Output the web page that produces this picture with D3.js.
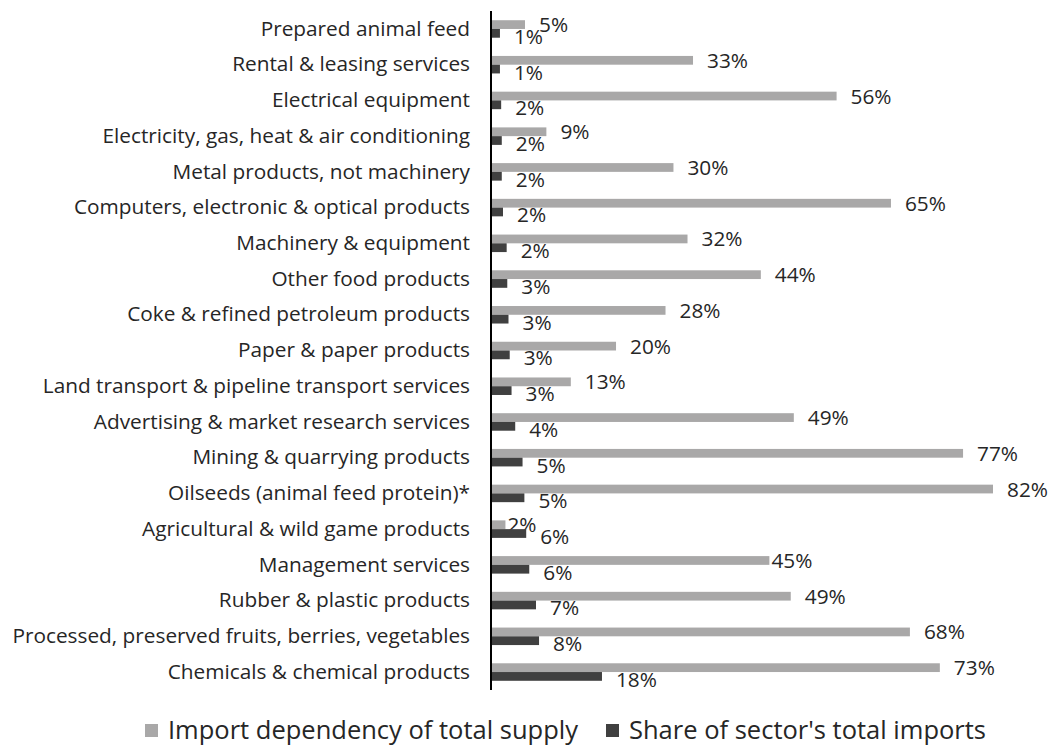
<!DOCTYPE html>
<html><head><meta charset="utf-8">
<script src="https://cdn.jsdelivr.net/npm/d3@7"></script>
<style>
html,body{margin:0;padding:0;background:#fff;}
text{font-family:"Open Sans",sans-serif;fill:#262626;}
</style></head>
<body>
<svg id="chart" width="1055" height="745"></svg>
<script>
const categories = [
  "Prepared animal feed",
  "Rental & leasing services",
  "Electrical equipment",
  "Electricity, gas, heat & air conditioning",
  "Metal products, not machinery",
  "Computers, electronic & optical products",
  "Machinery & equipment",
  "Other food products",
  "Coke & refined petroleum products",
  "Paper & paper products",
  "Land transport & pipeline transport services",
  "Advertising & market research services",
  "Mining & quarrying products",
  "Oilseeds (animal feed protein)*",
  "Agricultural & wild game products",
  "Management services",
  "Rubber & plastic products",
  "Processed, preserved fruits, berries, vegetables",
  "Chemicals & chemical products"
];
// Import dependency of total supply (%)
const importDependency = [5.4, 32.9, 56.4, 8.9, 29.7, 65.3, 32.0, 44.0, 28.4, 20.3, 12.9, 49.4, 77.1, 82.0, 2.2, 45.4, 48.9, 68.4, 73.3];
// Share of sector's total imports (%)
const importShare = [1.3, 1.3, 1.5, 1.6, 1.6, 1.8, 2.4, 2.5, 2.7, 2.9, 3.2, 3.8, 5.0, 5.3, 5.6, 6.1, 7.2, 7.7, 18.0];
const seriesNames = ["Import dependency of total supply", "Share of sector's total imports"];
const seriesColors = ["#A9A8A8", "#404040"];

const svg = d3.select("#chart");
const x = d3.scaleLinear().domain([0, 82]).range([492, 993]);
const y = d3.scaleBand().domain(categories).range([11.1, 689.9]).paddingInner(0.51).paddingOuter(0.255);
const ySub = d3.scaleBand().domain([0, 1]).range([0, y.bandwidth()]);

// labels that sit close to their bar end in the original
const tightLabels = new Set(["Agricultural & wild game products", "Management services"]);

const series = [importDependency, importShare];
const fmt = v => Math.round(v) + "%";
const labelSize = 20.8;

series.forEach((vals, si) => {
  const g = svg.append("g");
  g.selectAll("rect").data(vals).join("rect")
    .attr("x", x(0))
    .attr("y", (d, i) => y(categories[i]) + ySub(si))
    .attr("width", d => x(d) - x(0))
    .attr("height", ySub.bandwidth())
    .attr("fill", seriesColors[si]);
  g.selectAll("text").data(vals).join("text")
    .attr("x", (d, i) => x(d) + (si === 0 && tightLabels.has(categories[i]) ? 2 : 14))
    .attr("y", (d, i) => y(categories[i]) + ySub(si) + ySub.bandwidth() / 2 + (si === 1 ? 3 : 0))
    .attr("dy", "0.36em")
    .attr("font-size", labelSize)
    .text(fmt);
});

// category axis
const yAxis = d3.axisLeft(y).tickSize(0).tickPadding(21);
const ag = svg.append("g").attr("transform", "translate(491,0)").call(yAxis);
ag.select(".domain").remove();
ag.selectAll("text").attr("font-size", labelSize).style("font-family", "'Open Sans', sans-serif").attr("fill", "#262626");
svg.append("line").attr("x1", 491).attr("x2", 491).attr("y1", 11.1).attr("y2", 689.9)
  .attr("stroke", "#000").attr("stroke-width", 2);

// legend
const legendX = [145, 606];
const lg = svg.append("g");
seriesNames.forEach((n, i) => {
  lg.append("rect").attr("x", legendX[i]).attr("y", 724).attr("width", 13).attr("height", 13).attr("fill", seriesColors[i]);
  lg.append("text").attr("x", legendX[i] + 23).attr("y", 730).attr("dy", "0.36em").attr("font-size", 25.5).text(n);
});
</script>
</body></html>
